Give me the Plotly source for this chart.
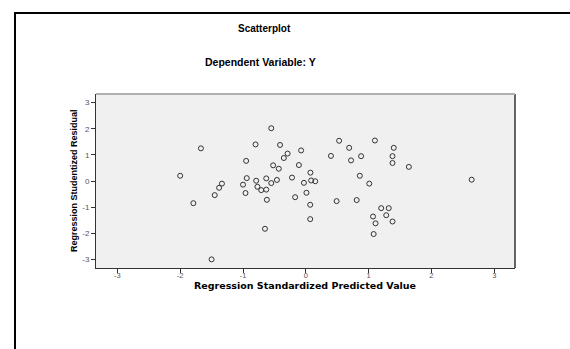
import plotly.graph_objects as go

# Regression Standardized Predicted Value
pred = [-2.00, -1.67, -1.79, -1.45, -1.38, -1.335, -1.50, -0.80, -0.95, -0.94,
        -1.00, -0.96, -0.79, -0.77, -0.71, -0.63, -0.63, -0.62, -0.65, -0.55,
        -0.55, -0.52, -0.46, -0.43, -0.41, -0.35, -0.29, -0.22, -0.17, -0.11,
        -0.075, -0.03, 0.01, 0.073, 0.085, 0.15, 0.07, 0.07, 0.40, 0.53,
        0.49, 0.69, 0.72, 0.88, 0.86, 0.81, 1.01, 1.10, 1.20, 1.32,
        1.07, 1.28, 1.11, 1.38, 1.08, 1.40, 1.38, 1.38, 1.64, 2.64]
# Regression Studentized Residual
resid = [0.20, 1.25, -0.85, -0.54, -0.26, -0.10, -3.00, 1.40, 0.77, 0.11,
         -0.14, -0.46, 0.01, -0.22, -0.35, 0.10, -0.33, -0.72, -1.83, 2.02,
         -0.08, 0.60, 0.04, 0.47, 1.38, 0.88, 1.05, 0.13, -0.62, 0.61,
         1.17, -0.07, -0.45, 0.32, 0.02, -0.01, -0.91, -1.46, 0.96, 1.54,
         -0.77, 1.27, 0.79, 0.95, 0.20, -0.73, -0.10, 1.55, -1.04, -1.04,
         -1.36, -1.31, -1.62, -1.55, -2.03, 1.27, 0.95, 0.69, 0.54, 0.05]

tick_vals = [-3, -2, -1, 0, 1, 2, 3]

W, H = 570, 349
L, R, T, B = 96, 515, 94, 268
pw, ph = R - L, B - T


def px(x):
    return (x - L) / pw


def py(y):
    return (B - y) / ph


fig = go.Figure()
fig.add_trace(go.Scatter(
    x=pred, y=resid, mode="markers",
    marker=dict(symbol="circle-open", size=5, color="#333333", line=dict(width=1, color="#333333")),
    showlegend=False, hoverinfo="x+y",
))

axis_font = dict(family="Liberation Sans, Arial, sans-serif", size=7.5, color="#555555")
fig.update_layout(
    width=W, height=H,
    margin=dict(l=L, r=W - R, t=T, b=H - B, pad=0),
    paper_bgcolor="white",
    plot_bgcolor="#f0f0f0",
    font=dict(family="Liberation Sans, Arial, sans-serif", color="black"),
    xaxis=dict(
        range=[-3.34, 3.33], tickvals=tick_vals, ticktext=[str(v) for v in tick_vals],
        showgrid=False, zeroline=False, showline=True, linecolor="#333333", linewidth=1,
        ticks="outside", ticklen=4, tickcolor="#333333", tickfont=axis_font,
        ticklabelstandoff=-4,
    ),
    yaxis=dict(
        range=[-3.33, 3.33], tickvals=tick_vals, ticktext=[str(v) for v in tick_vals],
        showgrid=False, zeroline=False, showline=True, linecolor="#333333", linewidth=1,
        ticks="outside", ticklen=4, tickcolor="#333333",
        tickfont=dict(family="Liberation Sans, Arial, sans-serif", size=8, color="#555555"),
    ),
    shapes=[
        # plot area right edge (dark) and top edge (light gray)
        dict(type="line", xref="paper", yref="paper", x0=1, x1=1, y0=0, y1=1,
             line=dict(color="#333333", width=1.5)),
        dict(type="line", xref="paper", yref="paper", x0=0, x1=1, y0=1, y1=1,
             line=dict(color="#b0b0b0", width=2)),
        # outer frame (top and left, extends beyond view)
        dict(type="line", xref="paper", yref="paper", x0=px(14), x1=px(600), y0=py(13), y1=py(13),
             line=dict(color="black", width=2)),
        dict(type="line", xref="paper", yref="paper", x0=px(15), x1=px(15), y0=py(12), y1=py(380),
             line=dict(color="black", width=2)),
    ],
    annotations=[
        dict(text="<b>Scatterplot</b>", xref="paper", yref="paper", x=px(264), y=py(29),
             showarrow=False, font=dict(size=10, color="black"), xanchor="center", yanchor="middle"),
        dict(text="<b>Dependent Variable: Y</b>", xref="paper", yref="paper", x=px(260), y=py(62),
             showarrow=False, font=dict(size=10.5, color="black"), xanchor="center", yanchor="middle"),
        dict(text="<b>Regression Standardized Predicted Value</b>", xref="paper", yref="paper",
             x=px(305), y=py(285), showarrow=False,
             font=dict(family="DejaVu Sans, sans-serif", size=9.5, color="black"),
             xanchor="center", yanchor="middle"),
        dict(text="<b>Regression Studentized Residual</b>", xref="paper", yref="paper",
             x=px(73.5), y=py(180.5), showarrow=False, textangle=-90,
             font=dict(size=9, color="black"), xanchor="center", yanchor="middle"),
    ],
)

fig.write_html("out.html", post_script="document.body.style.margin='0px';",
               config={"displayModeBar": False})
